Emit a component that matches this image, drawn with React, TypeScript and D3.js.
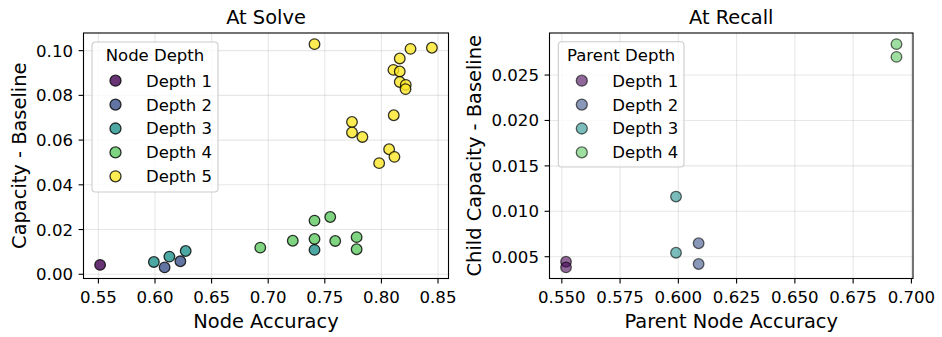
import * as d3 from 'd3';

// ---- data ----
const depthLabels = ['Depth 1', 'Depth 2', 'Depth 3', 'Depth 4', 'Depth 5'];
const viridis5 = ['#440154', '#3b528b', '#21918c', '#5ec962', '#fde725'];

// At Solve: [node accuracy, capacity - baseline]
const solveDepth1 = [[0.5515, 0.0042]];
const solveDepth2 = [[0.6085, 0.0031], [0.6224, 0.0058]];
const solveDepth3 = [[0.599, 0.0055], [0.6127, 0.0079], [0.6271, 0.0104], [0.7409, 0.0109]];
const solveDepth4 = [
  [0.693, 0.0119], [0.7217, 0.015], [0.7409, 0.024], [0.7409, 0.0158],
  [0.7548, 0.0256], [0.7592, 0.0149], [0.7781, 0.0166], [0.7781, 0.0112],
];
const solveDepth5 = [
  [0.7409, 0.1029], [0.8257, 0.1008], [0.8446, 0.1013], [0.8162, 0.0965],
  [0.8106, 0.0914], [0.8162, 0.0907], [0.8162, 0.086], [0.8215, 0.0847],
  [0.8213, 0.0828], [0.8109, 0.0711], [0.774, 0.0681], [0.774, 0.0634],
  [0.7832, 0.0614], [0.8068, 0.0559], [0.8115, 0.0525], [0.798, 0.0497],
];

// At Recall: [parent node accuracy, child capacity - baseline]
const recallDepth1 = [[0.5518, 0.00445], [0.5518, 0.00383]];
const recallDepth2 = [[0.6087, 0.00648], [0.6087, 0.0042]];
const recallDepth3 = [[0.599, 0.01162], [0.599, 0.00544]];
const recallDepth4 = [[0.6936, 0.0284], [0.6936, 0.027]];

const solveXTicks = [0.55, 0.6, 0.65, 0.7, 0.75, 0.8, 0.85];
const solveYTicks = [0, 0.02, 0.04, 0.06, 0.08, 0.1];
const recallXTicks = [0.55, 0.575, 0.6, 0.625, 0.65, 0.675, 0.7];
const recallYTicks = [0.005, 0.01, 0.015, 0.02, 0.025];

const FONT = 'DejaVu Sans, sans-serif';
const TOP = 33;
const BOTTOM = 278.5;

// matplotlib-style 5% margins around the data
const padded = (vals: number[]) => {
  const [lo, hi] = d3.extent(vals) as [number, number];
  const m = (hi - lo) * 0.05;
  return [lo - m, hi + m];
};

type Panel = {
  left: number;
  right: number;
  title: string;
  xLabel: string;
  yLabel: string;
  yLabelX: number;
  legendTitle: string;
  legendBox: [number, number, number, number];
  groups: number[][][];
  alpha: number;
  xTicks: number[];
  yTicks: number[];
  xFmt: string;
  yFmt: string;
};

const ScatterPanel = ({ p }: { p: Panel }) => {
  const all = p.groups.flat();
  const x = d3.scaleLinear().domain(padded(all.map(d => d[0]))).range([p.left, p.right]);
  const y = d3.scaleLinear().domain(padded(all.map(d => d[1]))).range([BOTTOM, TOP]);
  const fx = d3.format(p.xFmt);
  const fy = d3.format(p.yFmt);
  const cx = (p.left + p.right) / 2;
  const [lx0, ly0, lx1, ly1] = p.legendBox;

  return (
    <g fontFamily={FONT}>
      {/* grid */}
      {p.xTicks.map(t => (
        <line key={'gx' + t} x1={x(t)} x2={x(t)} y1={TOP} y2={BOTTOM} stroke="#b0b0b0" strokeOpacity={0.3} strokeWidth={1.1} />
      ))}
      {p.yTicks.map(t => (
        <line key={'gy' + t} x1={p.left} x2={p.right} y1={y(t)} y2={y(t)} stroke="#b0b0b0" strokeOpacity={0.3} strokeWidth={1.1} />
      ))}

      {/* points */}
      {p.groups.map((g, gi) =>
        g.map((d, i) => (
          <circle
            key={gi + '-' + i}
            cx={x(d[0])}
            cy={y(d[1])}
            r={5.3}
            fill={viridis5[gi]}
            fillOpacity={p.alpha}
            stroke="#000"
            strokeOpacity={p.alpha}
            strokeWidth={1.3}
          />
        ))
      )}

      {/* spines */}
      <rect x={p.left} y={TOP} width={p.right - p.left} height={BOTTOM - TOP} fill="none" stroke="#000" strokeWidth={1.1} />

      {/* ticks */}
      {p.xTicks.map(t => (
        <g key={'tx' + t}>
          <line x1={x(t)} x2={x(t)} y1={BOTTOM} y2={BOTTOM + 4.9} stroke="#000" strokeWidth={1.1} />
          <text x={x(t)} y={303} fontSize={16.6} textAnchor="middle" fill="#000">{fx(t)}</text>
        </g>
      ))}
      {p.yTicks.map(t => (
        <g key={'ty' + t}>
          <line x1={p.left - 4.9} x2={p.left} y1={y(t)} y2={y(t)} stroke="#000" strokeWidth={1.1} />
          <text x={p.left - 10.5} y={y(t)} dy="0.36em" fontSize={16.6} textAnchor="end" fill="#000">{fy(t)}</text>
        </g>
      ))}

      {/* labels */}
      <text x={cx} y={24} fontSize={19.4} textAnchor="middle" fill="#000">{p.title}</text>
      <text x={cx} y={328.3} fontSize={19.4} textAnchor="middle" fill="#000">{p.xLabel}</text>
      <text
        transform={`translate(${p.yLabelX},${(TOP + BOTTOM) / 2}) rotate(-90)`}
        fontSize={19.4}
        textAnchor="middle"
        fill="#000"
      >
        {p.yLabel}
      </text>

      {/* legend */}
      <rect x={lx0} y={ly0} width={lx1 - lx0} height={ly1 - ly0} rx={3.5} fill="#fff" fillOpacity={0.8} stroke="#cccccc" strokeWidth={1.1} />
      <text x={(lx0 + lx1) / 2} y={61.3} fontSize={16.5} textAnchor="middle" fill="#000">{p.legendTitle}</text>
      {p.groups.map((_, gi) => {
        const ry = 80.7 + gi * 23.9;
        return (
          <g key={'lg' + gi}>
            <circle cx={lx0 + 23.5} cy={ry} r={5.5} fill={viridis5[gi]} fillOpacity={p.alpha} stroke="#000" strokeOpacity={p.alpha} strokeWidth={1.3} />
            <text x={lx0 + 54} y={ry} dy="0.36em" fontSize={16.5} fill="#000">{depthLabels[gi]}</text>
          </g>
        );
      })}
    </g>
  );
};

const solvePanel: Panel = {
  left: 83.5,
  right: 448.5,
  title: 'At Solve',
  xLabel: 'Node Accuracy',
  yLabel: 'Capacity - Baseline',
  yLabelX: 25.5,
  legendTitle: 'Node Depth',
  legendBox: [92, 42, 218, 192],
  groups: [solveDepth1, solveDepth2, solveDepth3, solveDepth4, solveDepth5],
  alpha: 0.8,
  xTicks: solveXTicks,
  yTicks: solveYTicks,
  xFmt: '.2f',
  yFmt: '.2f',
};

const recallPanel: Panel = {
  left: 549.5,
  right: 913,
  title: 'At Recall',
  xLabel: 'Parent Node Accuracy',
  yLabel: 'Child Capacity - Baseline',
  yLabelX: 481,
  legendTitle: 'Parent Depth',
  legendBox: [558.3, 41.7, 684, 167],
  groups: [recallDepth1, recallDepth2, recallDepth3, recallDepth4],
  alpha: 0.6,
  xTicks: recallXTicks,
  yTicks: recallYTicks,
  xFmt: '.3f',
  yFmt: '.3f',
};

export default function App() {
  return (
    <svg
      width={942}
      height={337}
      viewBox="0 0 942 337"
      style={{ position: 'absolute', left: 0, top: 0, background: '#fff' }}
    >
      <rect width={942} height={337} fill="#fff" />
      <ScatterPanel p={solvePanel} />
      <ScatterPanel p={recallPanel} />
    </svg>
  );
}
